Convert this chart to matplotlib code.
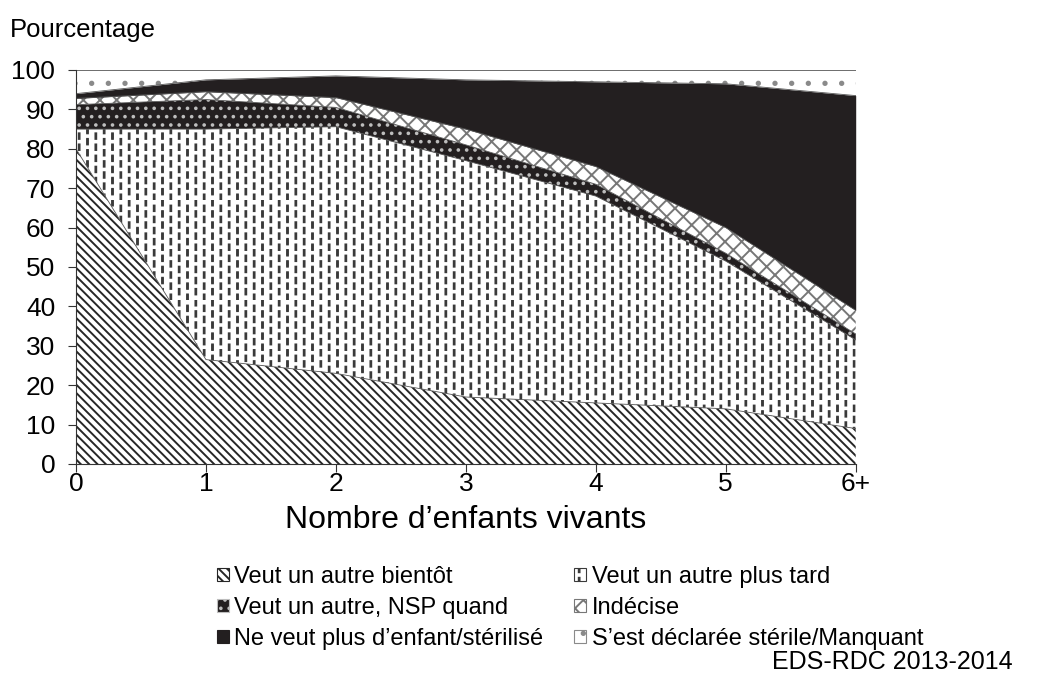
import numpy as np
import matplotlib
matplotlib.use("Agg")
import matplotlib.pyplot as plt
import matplotlib.patches as mpatches
from matplotlib import hatch as mhatch
from matplotlib.path import Path

# Données (pourcentages par nombre d'enfants vivants)
categories = ["0", "1", "2", "3", "4", "5", "6+"]
veut_bientot = [80.0, 26.5, 23.0, 17.0, 15.5, 14.0, 9.0]
veut_plus_tard = [5.0, 58.5, 62.6, 60.0, 52.5, 37.5, 22.5]
veut_nsp_quand = [6.2, 7.5, 4.9, 4.0, 3.0, 2.0, 1.5]
indecise = [1.6, 2.0, 2.5, 4.0, 4.5, 6.5, 6.0]
ne_veut_plus = [1.2, 3.0, 5.5, 12.5, 21.5, 36.5, 54.5]
sterile_manquant = [6.0, 2.5, 1.5, 2.5, 3.0, 3.5, 6.5]

labels = ["Veut un autre bientôt", "Veut un autre plus tard", "Veut un autre, NSP quand",
          "Indécise", "Ne veut plus d\u2019enfant/stérilisé", "S\u2019est déclarée stérile/Manquant"]


# motif de tirets verticaux décalés (remplace le hachurage '|')
class DashHatch(mhatch.HatchPatternBase):
    def __init__(self, hatch, density):
        self.num_cols = int(hatch.count('|') * density)
        self.num_dash = 9 if self.num_cols else 0
        self.num_vertices = self.num_cols * self.num_dash * 5

    def set_vertices_and_codes(self, vertices, codes):
        i = 0
        w = 0.004
        for c in range(self.num_cols):
            x = (c + 0.5) / self.num_cols
            off = 0.5 / self.num_dash if c % 2 else 0.0
            for d in range(self.num_dash):
                y0 = d / self.num_dash + off
                y1 = y0 + 0.5 / self.num_dash
                vertices[i:i + 5] = [(x - w, y0), (x + w, y0), (x + w, y1), (x - w, y1), (x - w, y0)]
                codes[i:i + 5] = [Path.MOVETO, Path.LINETO, Path.LINETO, Path.LINETO, Path.CLOSEPOLY]
                i += 5

mhatch._hatch_types = [DashHatch if h is mhatch.VerticalHatch else h for h in mhatch._hatch_types]

plt.rcParams['font.family'] = ['Liberation Sans', 'DejaVu Sans']
plt.rcParams['hatch.linewidth'] = 1.4

styles = [
    dict(facecolor='white', edgecolor='#262626', hatch='\\\\\\\\'),
    dict(facecolor='white', edgecolor='#3a3a3a', hatch='||'),
    dict(facecolor='#231f20', edgecolor='#bdbdbd', hatch='..'),
    dict(facecolor='white', edgecolor='#777777', hatch='xx'),
    dict(facecolor='#231f20', edgecolor='#231f20', hatch=None),
    dict(facecolor='white', edgecolor='#8a8a8a', hatch='.'),
]

series = [veut_bientot, veut_plus_tard, veut_nsp_quand, indecise, ne_veut_plus, sterile_manquant]
x = np.arange(len(categories))
tops = np.cumsum(np.array(series), axis=0)
bottoms = np.vstack([np.zeros(len(x)), tops[:-1]])

fig = plt.figure(figsize=(10.41, 6.75), dpi=100)
ax = fig.add_axes([0.073, 0.3126, 0.749, 0.5837])

for i in range(len(series)):
    ax.fill_between(x, bottoms[i], tops[i], linewidth=0, **styles[i])
    ax.plot(x, tops[i], color='#555555', lw=0.6)

ax.set_xlim(0, 6)
ax.set_ylim(0, 100)
ax.set_xticks(x)
ax.set_xticklabels(categories)
ax.set_yticks(np.arange(0, 101, 10))
ax.tick_params(axis='both', labelsize=19, direction='out', length=6, color='#333333')
ax.tick_params(axis='y', pad=9)
ax.tick_params(axis='x', pad=0)
for s in ['top', 'right']:
    ax.spines[s].set_visible(False)
for s in ['left', 'bottom']:
    ax.spines[s].set_color('#333333')
ax.set_xlabel("Nombre d\u2019enfants vivants", fontsize=23, labelpad=6)

fig.text(10 / 1041, 1 - 30 / 675, "Pourcentage", fontsize=18.5, va='center', ha='left')
fig.text(1013 / 1041, 1 - 662 / 675, "EDS-RDC 2013-2014", fontsize=18, va='center', ha='right')

handles = [mpatches.Patch(label=labels[i], linewidth=0.8, **styles[i]) for i in range(len(series))]
order = [0, 2, 4, 1, 3, 5]
fig.legend([handles[k] for k in order], [labels[k] for k in order], ncol=2, loc='upper left',
           bbox_to_anchor=(212 / 1041, 1 - 561 / 675), frameon=False, fontsize=17,
           handlelength=0.5, handleheight=0.5, handletextpad=0.25, columnspacing=1.3,
           labelspacing=0.38, borderaxespad=0, borderpad=0.2)

fig.savefig("out.png", dpi=100)
